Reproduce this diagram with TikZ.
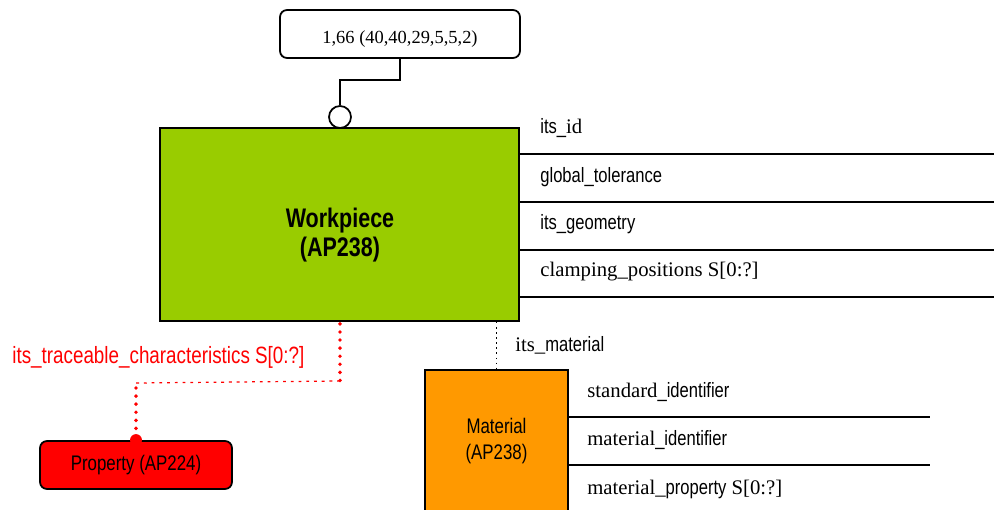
\documentclass[tikz,border=0pt]{standalone}
\usepackage{fontspec}
\setmainfont{Liberation Serif}
\newfontfamily\narrowsans[FakeStretch=0.8]{Liberation Sans}
\usetikzlibrary{positioning}
\definecolor{wpgreen}{HTML}{99CC00}
\definecolor{matorange}{HTML}{FF9900}
\definecolor{propred}{HTML}{FF0000}
\newcommand{\ns}[1]{{\narrowsans #1}}
\tikzset{%
  % entity boxes and attribute labels
  entity/.style = {draw=black, line width=1pt, inner sep=0pt, align=center},
  attr/.style = {anchor=west, inner sep=0pt, font=\fontsize{11.8}{14}\selectfont},
  sepline/.style = {line width=1pt},
  reddots/.style = {draw=propred, line width=2.2pt, line cap=round,
                    dash pattern=on 0pt off 4.6pt},
  redthin/.style = {draw=propred, line width=0.7pt, dash pattern=on 1.6pt off 2.8pt}
}
\begin{document}
\begin{tikzpicture}[x=0.02cm, y=-0.02cm]
  \useasboundingbox (0,0) rectangle (994,510);
  % cardinality box
  \node[entity, rounded corners=4pt, fill=white, minimum width=4.8cm, minimum height=0.96cm,
        text height=11pt, text depth=0pt,
        font=\fontsize{10.5}{12}\selectfont] (card) at (400,34) {1,66 (40,40,29,5,5,2)};
  % workpiece
  \node[entity, fill=wpgreen, minimum width=7.18cm, minimum height=3.86cm] (wp) at (339.5,224.5) {};
  \node[align=center, inner sep=0pt, font=\narrowsans\bfseries\fontsize{15.3}{17}\selectfont]
    (wpname) at (340,235) {Workpiece\\(AP238)};
  \node[draw=black, line width=1pt, fill=white, circle, minimum size=0.44cm, inner sep=0pt] (ring) at (340,117) {};
  \coordinate (bend) at (340,80);
  \draw[line width=1pt] (card.south) |- (bend) -- (ring.north);
  % workpiece attributes
  \foreach \y in {154,202,250,297}{
    \draw[sepline] (wp.east |- 0,\y) -- (994,\y);
  }
  \node[attr] (a1) at (540,128) {\ns{its\_}id};
  \node[attr] (a2) at (540,177) {\ns{global\_tolerance}};
  \node[attr] (a3) at (540,224) {\ns{its\_geometry}};
  \node[attr] (a4) at (540,272) {clamping\_positions S[0:?]};
  % material
  \node[entity, fill=matorange, minimum width=2.86cm, minimum height=2.84cm,
        font=\narrowsans\fontsize{12}{15}\selectfont] (mat) at (496.5,441) {Material\\(AP238)};
  \draw[line width=0.9pt, dotted] (mat.north |- wp.south) -- (mat.north);
  \node[attr] (mlab) at (515,345) {its\_\ns{material}};
  \foreach \y in {417,465}{
    \draw[sepline] (mat.east |- 0,\y) -- (930,\y);
  }
  \node[attr] (m1) at (587,392) {standard\ns{\_identifier}};
  \node[attr] (m2) at (587,440) {material\ns{\_identifier}};
  \node[attr] (m3) at (587,489) {material\_\ns{property} S[0:?]};
  % property
  \node[entity, rounded corners=4pt, fill=propred, minimum width=3.84cm, minimum height=0.96cm,
        font=\narrowsans\fontsize{12}{14}\selectfont] (prop) at (136,465) {Property (AP224)};
  \coordinate (c1) at (340,381);
  \coordinate (c2) at (136,383);
  \draw[reddots] (wp.south -| c1) ++(0,2) -- (c1);
  \draw[redthin] (c1) -- (c2);
  \draw[reddots] (c2) ++(0,5) -- (prop.north);
  \fill[propred] (prop.north) circle[radius=0.12cm];
  \node[anchor=west, inner sep=0pt, text=propred, font=\narrowsans\fontsize{13.4}{15}\selectfont]
    (tlab) at (12,357) {its\_traceable\_characteristics S[0:?]};
\end{tikzpicture}
\end{document}
